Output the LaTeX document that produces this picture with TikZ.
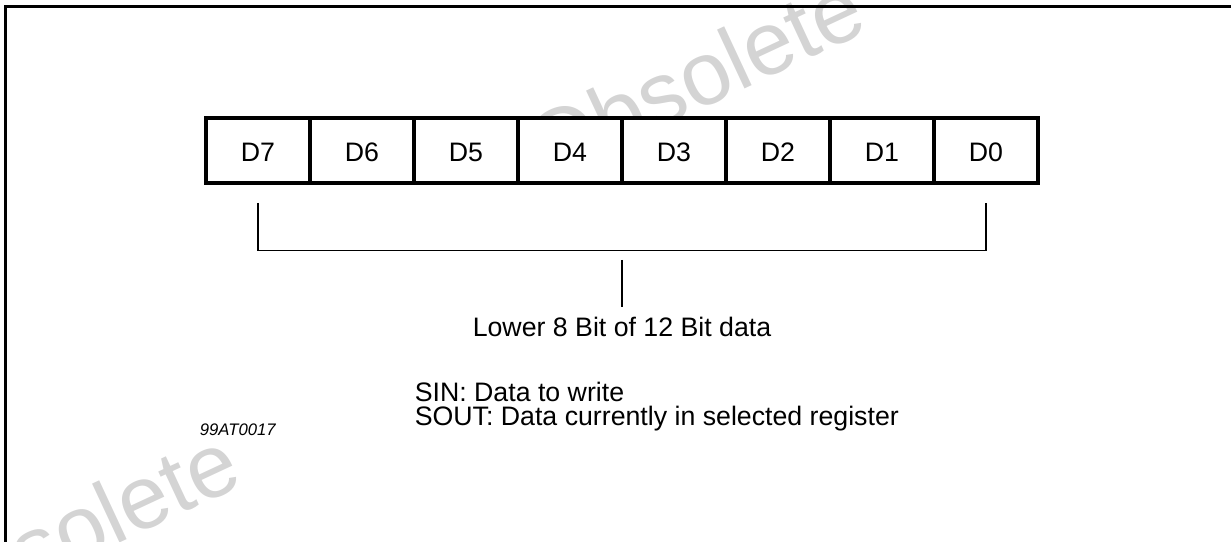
\documentclass[tikz,border=0pt]{standalone}
\usepackage{fontspec}
\setmainfont{Liberation Sans}
\usetikzlibrary{positioning}

\begin{document}
\begin{tikzpicture}[
  bitcell/.style = {draw, fill = white, line width = 0.08cm, outer sep = 0pt, inner sep = 0pt, minimum width = 2.08cm, minimum height = 1.3cm, text height = 0.46cm, font = \fontsize{15.2}{18}\selectfont},
  legend/.style = {inner sep = 0pt, anchor = base west, font = \fontsize{15.2}{18}\selectfont},
  thinline/.style = {line width = 0.03cm},
  stamp/.style = {text = black!17, rotate = 25, anchor = base west, inner sep = 0pt, font = \fontsize{51}{54}\selectfont}
]
\clip (0,0) rectangle (24.62,10.82);
% watermark behind everything
\node[stamp] (stamp1) at (10.9,7.18) {Obsolete};
\node[stamp] (stamp2) at (-1.6,-1.9) {Obsolete};
\draw[line width = 0.06cm] (0.12,-1) |- (25,10.69);
% register bits
\node[bitcell] (d7) at (5.16,7.81) {D7};
\node[bitcell, right = 0cm of d7] (d6) {D6};
\node[bitcell, right = 0cm of d6] (d5) {D5};
\node[bitcell, right = 0cm of d5] (d4) {D4};
\node[bitcell, right = 0cm of d4] (d3) {D3};
\node[bitcell, right = 0cm of d3] (d2) {D2};
\node[bitcell, right = 0cm of d2] (d1) {D1};
\node[bitcell, right = 0cm of d1] (d0) {D0};
% bracket
\coordinate (b7top) at ([yshift=-0.4cm]d7.south);
\coordinate (b7bot) at ([yshift=-1.354cm]d7.south);
\coordinate (b0top) at ([yshift=-0.4cm]d0.south);
\coordinate (b0bot) at ([yshift=-1.354cm]d0.south);
\coordinate (stemtop) at ([yshift=-1.54cm]d4.south east);
\coordinate (stembot) at ([yshift=-2.474cm]d4.south east);
\draw[thinline] (b7top) -- (b7bot) -- (b0bot) -- (b0top);
\draw[thinline] (stemtop) -- (stembot);
\node[legend, anchor = base] (lower) at ([yshift=-0.6cm]stembot) {Lower 8 Bit of 12 Bit data};
% notes
\node[legend] (sin) at (8.29,2.786) {SIN: Data to write};
\node[legend] (sout) at ([yshift=-0.466cm]sin.base west) {SOUT: Data currently in selected register};
\node[legend, font = \fontsize{9.5}{11}\selectfont\itshape] (figid) at (3.99,2.12) {99AT0017};
\end{tikzpicture}
\end{document}
